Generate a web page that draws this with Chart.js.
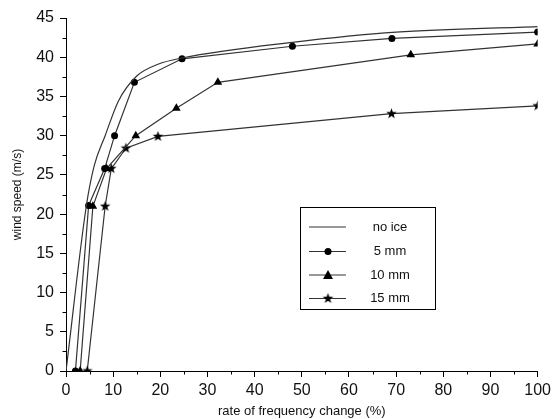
<!DOCTYPE html>
<html>
<head>
<meta charset="utf-8">
<script src="https://cdn.jsdelivr.net/npm/chart.js@4.4.1/dist/chart.umd.min.js"></script>
<style>
    html, body { margin: 0; padding: 0; background: #fff; }
    #wrap { width: 555px; height: 419px; }
</style>
</head>
<body>
<div id="wrap"><canvas id="lineChart" width="555" height="419"></canvas></div>
<script>
// ==========================================
// Data
// ==========================================
const seriesLabels = ["no ice", "5 mm", "10 mm", "15 mm"];

const noIceX = [0, 4.3, 6, 8.3, 11.1, 15, 19.5, 24.6, 48, 70, 100];
const noIceY = [0, 21, 26.2, 30, 34.4, 37.6, 39.1, 39.9, 41.9, 43.2, 43.9];

const ice5X = [2, 4.8, 8.2, 10.3, 14.5, 24.6, 48, 69.1, 100];
const ice5Y = [0, 21.1, 25.8, 30, 36.8, 39.8, 41.4, 42.4, 43.2];

const ice10X = [3, 5.7, 8.6, 14.8, 23.4, 32.2, 73.1, 100];
const ice10Y = [0, 21, 25.8, 30, 33.5, 36.8, 40.3, 41.7];

const ice15X = [4.5, 8.3, 9.6, 12.7, 19.5, 69, 100];
const ice15Y = [0, 21, 25.8, 28.4, 29.9, 32.8, 33.8];

const xTicks = [0, 10, 20, 30, 40, 50, 60, 70, 80, 90, 100];
const yTicks = [0, 5, 10, 15, 20, 25, 30, 35, 40, 45];

const toPoints = (xs, ys) => xs.map((x, i) => ({ x: x, y: ys[i] }));

// ==========================================
// Marker: filled five pointed star
// ==========================================
function makeStar(r) {
    const c = document.createElement("canvas");
    const s = Math.ceil(r * 2 + 2);
    c.width = s;
    c.height = s;
    const g = c.getContext("2d");
    g.fillStyle = "#000";
    g.beginPath();
    for (let i = 0; i < 10; i++) {
        const rad = i % 2 === 0 ? r : r * 0.42;
        const a = -Math.PI / 2 + i * Math.PI / 5;
        const px = s / 2 + rad * Math.cos(a);
        const py = s / 2 + rad * Math.sin(a);
        if (i === 0) g.moveTo(px, py); else g.lineTo(px, py);
    }
    g.closePath();
    g.fill();
    return c;
}
const starImg = makeStar(5.5);

const lineColor = "#333";

// ==========================================
// Minor ticks + legend box
// ==========================================
const extras = {
    id: "extras",
    afterDraw(chart) {
        const ctx = chart.ctx;
        const xs = chart.scales.x;
        const ys = chart.scales.y;
        ctx.save();
        ctx.strokeStyle = "#000";
        ctx.lineWidth = 1;

        // minor ticks
        ctx.beginPath();
        for (let v = 5; v < 100; v += 10) {
            const px = Math.round(xs.getPixelForValue(v)) + 0.5;
            ctx.moveTo(px, ys.bottom);
            ctx.lineTo(px, ys.bottom + 3.5);
        }
        for (let v = 2.5; v < 45; v += 5) {
            const py = Math.round(ys.getPixelForValue(v)) + 0.5;
            ctx.moveTo(xs.left, py);
            ctx.lineTo(xs.left - 3.5, py);
        }
        ctx.stroke();

        // legend
        const bx = 300.5, by = 207.5, bw = 135, bh = 102;
        ctx.fillStyle = "#fff";
        ctx.fillRect(bx, by, bw, bh);
        ctx.strokeRect(bx, by, bw, bh);
        const rows = [227, 251.5, 275, 298.5];
        ctx.font = "13px 'Liberation Sans', Arial, sans-serif";
        ctx.textAlign = "center";
        ctx.textBaseline = "middle";
        chart.data.datasets.forEach((ds, i) => {
            const yy = rows[i];
            ctx.strokeStyle = lineColor;
            ctx.lineWidth = 1.2;
            ctx.beginPath();
            ctx.moveTo(309, yy);
            ctx.lineTo(346, yy);
            ctx.stroke();
            ctx.fillStyle = "#000";
            if (ds.pointStyle === "circle") {
                ctx.beginPath();
                ctx.arc(328, yy, 3.5, 0, Math.PI * 2);
                ctx.fill();
            } else if (ds.pointStyle === "triangle") {
                ctx.beginPath();
                ctx.moveTo(328, yy - 5);
                ctx.lineTo(333, yy + 4);
                ctx.lineTo(323, yy + 4);
                ctx.closePath();
                ctx.fill();
            } else if (ds.pointStyle === starImg) {
                ctx.drawImage(starImg, 328 - starImg.width / 2, yy - starImg.height / 2);
            }
            ctx.fillStyle = "#111";
            ctx.fillText(ds.label, 390, yy);
        });
        ctx.restore();
    }
};

// ==========================================
// Chart
// ==========================================
const ctx = document.getElementById("lineChart").getContext("2d");

new Chart(ctx, {

    type: "line",

    data: {
        datasets: [
            {
                label: seriesLabels[0],
                data: toPoints(noIceX, noIceY),
                borderColor: lineColor,
                borderWidth: 1.2,
                pointRadius: 0,
                cubicInterpolationMode: "monotone"
            },
            {
                label: seriesLabels[1],
                data: toPoints(ice5X, ice5Y),
                borderColor: lineColor,
                borderWidth: 1.2,
                pointStyle: "circle",
                pointRadius: 3.5,
                pointBackgroundColor: "#000",
                pointBorderWidth: 0
            },
            {
                label: seriesLabels[2],
                data: toPoints(ice10X, ice10Y),
                borderColor: lineColor,
                borderWidth: 1.2,
                pointStyle: "triangle",
                pointRadius: 5,
                pointBackgroundColor: "#000",
                pointBorderWidth: 0
            },
            {
                label: seriesLabels[3],
                data: toPoints(ice15X, ice15Y),
                borderColor: lineColor,
                borderWidth: 1.2,
                pointStyle: starImg,
                pointRadius: 5
            }
        ]
    },

    options: {
        responsive: false,
        animation: false,
        layout: { padding: { left: 0, right: 15, top: 18, bottom: 0 } },
        plugins: {
            legend: { display: false },
            tooltip: { enabled: false }
        },
        scales: {
            x: {
                type: "linear",
                min: 0,
                max: 100,
                afterBuildTicks: s => { s.ticks = xTicks.map(v => ({ value: v })); },
                afterFit: s => { s.height = 48; },
                border: { color: "#000", width: 1 },
                grid: { drawOnChartArea: false, color: "#000", tickLength: 6 },
                ticks: {
                    color: "#111",
                    padding: 4,
                    maxRotation: 0,
                    font: { family: "'Liberation Sans', Arial, sans-serif", size: 16 }
                },
                title: {
                    display: true,
                    text: "rate of frequency change (%)",
                    color: "#111",
                    padding: { top: 0, bottom: 0 },
                    font: { family: "'Liberation Sans', Arial, sans-serif", size: 13 }
                }
            },
            y: {
                type: "linear",
                min: 0,
                max: 45,
                afterBuildTicks: s => { s.ticks = yTicks.map(v => ({ value: v })); },
                afterFit: s => { s.width = 66; },
                border: { color: "#000", width: 1 },
                grid: { drawOnChartArea: false, color: "#000", tickLength: 6 },
                ticks: {
                    color: "#111",
                    padding: 6,
                    font: { family: "'Liberation Sans', Arial, sans-serif", size: 16 }
                },
                title: {
                    display: true,
                    text: "wind speed (m/s)",
                    color: "#111",
                    padding: { top: 10, bottom: 0 },
                    font: { family: "'Liberation Sans', Arial, sans-serif", size: 12 }
                }
            }
        }
    },

    plugins: [extras]

});
</script>
</body>
</html>
